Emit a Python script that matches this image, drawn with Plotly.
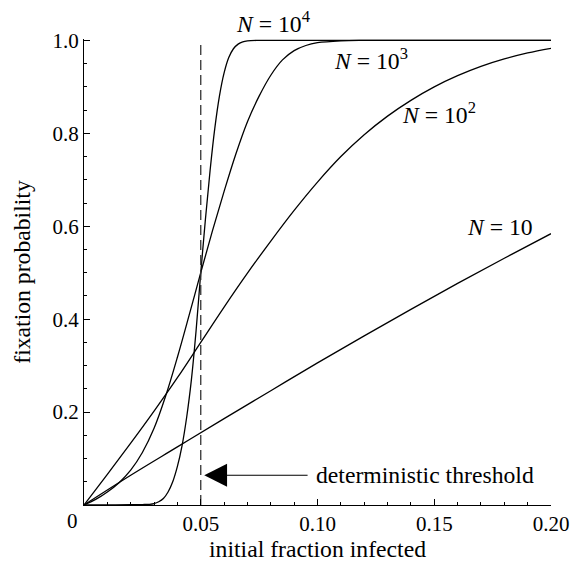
import plotly.graph_objects as go

# ---- data ----
x_n10 = [0, 0.02, 0.04, 0.06, 0.08, 0.10, 0.12, 0.14, 0.16, 0.18, 0.20]
y_n10 = [0, 0.064, 0.125, 0.186, 0.246, 0.306, 0.364, 0.421, 0.477, 0.531, 0.584]

x_n100 = [0, 0.01, 0.02, 0.03, 0.04, 0.05, 0.06, 0.07, 0.08, 0.09, 0.10,
          0.11, 0.12, 0.13, 0.14, 0.15, 0.16, 0.17, 0.18, 0.19, 0.20]
y_n100 = [0, 0.066, 0.133, 0.202, 0.274, 0.35, 0.426, 0.499, 0.568, 0.634, 0.695,
          0.75, 0.797, 0.837, 0.871, 0.90, 0.924, 0.944, 0.96, 0.973, 0.983]

x_n1000 = [0, 0.005, 0.01, 0.015, 0.02, 0.025, 0.03, 0.035, 0.04, 0.045, 0.05,
           0.055, 0.06, 0.065, 0.07, 0.075, 0.08, 0.085, 0.09, 0.095, 0.10,
           0.11, 0.12, 0.15, 0.20]
y_n1000 = [0, 0.012, 0.028, 0.048, 0.075, 0.113, 0.165, 0.235, 0.318, 0.408, 0.50,
           0.59, 0.675, 0.755, 0.825, 0.88, 0.925, 0.958, 0.978, 0.989, 0.995,
           0.999, 1.0, 1.0, 1.0]

x_n10000 = [0, 0.01, 0.02, 0.025, 0.028, 0.030, 0.032, 0.034, 0.036, 0.038, 0.040,
            0.042, 0.044, 0.046, 0.048, 0.050, 0.052, 0.054, 0.056, 0.058, 0.060,
            0.062, 0.064, 0.066, 0.068, 0.070, 0.075, 0.10, 0.15, 0.20]
y_n10000 = [0, 0, 0.0005, 0.001, 0.0015, 0.003, 0.007, 0.014, 0.028, 0.05, 0.083,
            0.128, 0.19, 0.27, 0.375, 0.50, 0.615, 0.72, 0.81, 0.88, 0.93,
            0.963, 0.982, 0.992, 0.997, 0.999, 1.0, 1.0, 1.0, 1.0]

threshold = 0.05
threshold_y = [0, 1.0]

x_tickvals = [0.05, 0.10, 0.15, 0.20]
x_ticktext = ["0.05", "0.10", "0.15", "0.20"]
y_tickvals = [0.2, 0.4, 0.6, 0.8, 1.0]
y_ticktext = ["0.2", "0.4", "0.6", "0.8", "1.0"]

FONT = "Liberation Serif, Times New Roman, serif"
line_style = dict(color="black", width=1.3)

fig = go.Figure()
for xs, ys in [(x_n10, y_n10), (x_n100, y_n100), (x_n1000, y_n1000), (x_n10000, y_n10000)]:
    fig.add_trace(go.Scatter(x=xs, y=ys, mode="lines", line=dict(shape="spline", smoothing=1.0, **line_style),
                             showlegend=False, hoverinfo="skip"))

fig.add_trace(go.Scatter(x=[threshold, threshold], y=threshold_y, mode="lines",
                         line=dict(color="#333333", width=1.3, dash="10px,5px"),
                         showlegend=False, hoverinfo="skip"))

ann_font = dict(family=FONT, size=23.7, color="black")
annotations = [
    dict(x=0.0643, y=1.036, yref="paper", text="<i>N</i> = 10<sup>4</sup>", showarrow=False,
         xanchor="left", yanchor="middle", font=ann_font),
    dict(x=0.1063, y=0.959, text="<i>N</i> = 10<sup>3</sup>", showarrow=False, xanchor="left", yanchor="middle", font=ann_font),
    dict(x=0.1354, y=0.843, text="<i>N</i> = 10<sup>2</sup>", showarrow=False, xanchor="left", yanchor="middle", font=ann_font),
    dict(x=0.1633, y=0.598, text="<i>N</i> = 10", showarrow=False, xanchor="left", yanchor="middle", font=ann_font),
    dict(x=0.0985, y=0.064, text="deterministic threshold", showarrow=False, xanchor="left", yanchor="middle", font=ann_font),
    dict(x=threshold + 0.0015, y=0.064, ax=0.0964, ay=0.064, axref="x", ayref="y", text="",
         showarrow=True, arrowhead=2, arrowsize=3.8, arrowwidth=1.2, arrowcolor="black"),
    dict(x=0, y=0, text="0", showarrow=False, xanchor="center", yanchor="top", xshift=-12, yshift=-2,
         font=dict(family=FONT, size=21, color="black")),
]

fig.update_layout(
    width=573, height=562,
    margin=dict(l=84, r=22, t=39, b=57, autoexpand=False),
    paper_bgcolor="white", plot_bgcolor="white",
    font=dict(family=FONT, size=21, color="black"),
    annotations=annotations,
    xaxis=dict(range=[0, 0.2], automargin=False, showgrid=False, zeroline=False, showline=True,
               linecolor="black", linewidth=1.3,
               ticks="inside", ticklen=6, tickwidth=1, tickcolor="black",
               tickvals=x_tickvals, ticktext=x_ticktext,
               minor=dict(ticks="inside", dtick=0.01, tick0=0, ticklen=3.3, tickwidth=1, tickcolor="black"),
               title=dict(text="initial fraction infected", font=dict(family=FONT, size=23.7), standoff=3)),
    yaxis=dict(range=[0, 1.003], automargin=False, showgrid=False, zeroline=False, showline=True,
               linecolor="black", linewidth=1.3,
               ticks="inside", ticklen=6, tickwidth=1, tickcolor="black",
               tickvals=y_tickvals, ticktext=y_ticktext,
               minor=dict(ticks="inside", dtick=0.05, tick0=0, ticklen=3.3, tickwidth=1, tickcolor="black"),
               title=dict(text="fixation probability", font=dict(family=FONT, size=23.7), standoff=15)),
)

fig.write_html("out.html", config={"displayModeBar": False},
               post_script="document.body.style.margin='0';document.body.style.overflow='hidden';")
